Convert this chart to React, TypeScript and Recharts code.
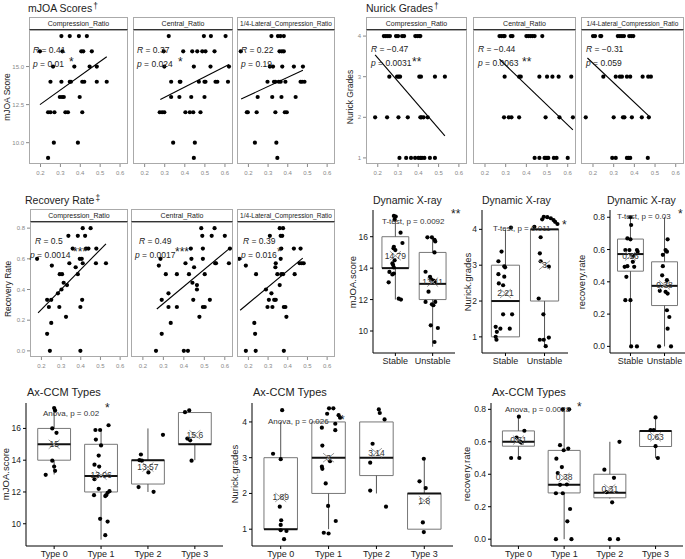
import React from "react";
import {
  ScatterChart,
  Scatter,
  XAxis,
  YAxis,
  ReferenceLine,
  ReferenceArea,
} from "recharts";

type Pt = [number, number];
// lo whisker, Q1, median, Q3, hi whisker
type Box = [number, number, number, number, number];

// ---------- faceted scatter panels ----------
const ratioTicks = [0.2, 0.3, 0.4, 0.5, 0.6];
const facetNames = ["Compression_Ratio", "Central_Ratio", "1/4-Lateral_Compression_Ratio"];

const mjoaTicks = [10, 12.5, 15];
const mjoaCompression: Pt[] = [
  [0.305, 17], [0.347, 17], [0.393, 17], [0.433, 17],
  [0.197, 16], [0.31, 16], [0.405, 16], [0.415, 16], [0.458, 16],
  [0.263, 15], [0.37, 15], [0.447, 15], [0.483, 15],
  [0.25, 14], [0.305, 14], [0.347, 14], [0.353, 14], [0.41, 14], [0.42, 14], [0.483, 14], [0.533, 14],
  [0.297, 13], [0.308, 13], [0.317, 13], [0.397, 13],
  [0.238, 12], [0.25, 12], [0.27, 12], [0.325, 12], [0.338, 12], [0.41, 12],
  [0.267, 10], [0.388, 10], [0.238, 9],
];
const mjoaCentral: Pt[] = [
  [0.32, 17], [0.495, 17], [0.53, 17], [0.603, 17],
  [0.295, 16], [0.392, 16], [0.437, 16], [0.462, 16], [0.487, 16], [0.503, 16], [0.548, 16],
  [0.298, 15], [0.445, 15], [0.528, 15], [0.62, 15],
  [0.332, 14], [0.375, 14], [0.378, 14], [0.47, 14], [0.498, 14], [0.503, 14], [0.553, 14], [0.562, 14], [0.615, 14],
  [0.332, 13], [0.373, 13], [0.432, 13], [0.498, 13],
  [0.275, 12], [0.287, 12], [0.298, 12], [0.403, 12], [0.425, 12], [0.442, 12], [0.478, 12],
  [0.342, 10], [0.45, 10], [0.445, 9],
];
const mjoaLateral: Pt[] = [
  [0.317, 17], [0.35, 17], [0.363, 17], [0.38, 17],
  [0.161, 16], [0.358, 16], [0.37, 16], [0.38, 16],
  [0.309, 15], [0.325, 15], [0.372, 15], [0.431, 15], [0.477, 15],
  [0.297, 14], [0.33, 14], [0.337, 14], [0.354, 14], [0.364, 14], [0.388, 14], [0.465, 14], [0.473, 14], [0.485, 14],
  [0.247, 13], [0.321, 13], [0.368, 13], [0.44, 13],
  [0.192, 12], [0.197, 12], [0.242, 12], [0.337, 12], [0.385, 12], [0.395, 12],
  [0.233, 10], [0.342, 10], [0.347, 9],
];
const mjoaFits: Pt[][] = [
  [[0.197, 12.5], [0.533, 15.64]],
  [[0.278, 12.83], [0.62, 15.13]],
  [[0.163, 12.87], [0.477, 14.76]],
];
const mjoaR = ["0.41", "0.37", "0.22"];
const mjoaP = ["0.01", "0.024", "0.19"];
const mjoaSig = ["*", "*", ""];

const nurickTicks = [1, 2, 3, 4];
const nurickCompression: Pt[] = [
  [0.23, 4], [0.24, 4], [0.25, 4], [0.26, 4], [0.29, 4], [0.3, 4], [0.32, 4], [0.33, 4], [0.385, 4], [0.395, 4], [0.405, 4], [0.41, 4],
  [0.257, 3], [0.295, 3], [0.303, 3], [0.31, 3], [0.405, 3], [0.413, 3], [0.482, 3], [0.531, 3],
  [0.187, 2], [0.246, 2], [0.302, 2], [0.348, 2], [0.41, 2], [0.416, 2], [0.426, 2], [0.446, 2],
  [0.307, 1], [0.34, 1], [0.364, 1], [0.384, 1], [0.4, 1], [0.41, 1], [0.418, 1], [0.43, 1], [0.457, 1], [0.482, 1],
];
const nurickCentral: Pt[] = [
  [0.27, 4], [0.28, 4], [0.29, 4], [0.295, 4], [0.325, 4], [0.333, 4], [0.4, 4], [0.41, 4], [0.42, 4], [0.43, 4], [0.44, 4], [0.477, 4],
  [0.295, 3], [0.365, 3], [0.373, 3], [0.463, 3], [0.5, 3], [0.526, 3], [0.556, 3], [0.617, 3],
  [0.292, 2], [0.315, 2], [0.328, 2], [0.365, 2], [0.493, 2], [0.56, 2], [0.625, 2],
  [0.44, 1], [0.463, 1], [0.488, 1], [0.494, 1], [0.5, 1], [0.506, 1], [0.533, 1], [0.546, 1], [0.6, 1],
];
const nurickLateral: Pt[] = [
  [0.2, 4], [0.21, 4], [0.235, 4], [0.24, 4], [0.32, 4], [0.33, 4], [0.34, 4], [0.35, 4], [0.375, 4], [0.385, 4], [0.395, 4],
  [0.25, 3], [0.31, 3], [0.33, 3], [0.34, 3], [0.364, 3], [0.38, 3], [0.44, 3], [0.467, 3], [0.48, 3],
  [0.165, 2], [0.3, 2], [0.345, 2], [0.352, 2], [0.388, 2], [0.436, 2], [0.47, 2],
  [0.293, 1], [0.31, 1], [0.364, 1], [0.372, 1], [0.38, 1], [0.465, 1],
];
const nurickFits: Pt[][] = [
  [[0.187, 3.54], [0.531, 1.54]],
  [[0.27, 3.43], [0.625, 1.69]],
  [[0.173, 3.46], [0.477, 2.0]],
];
const nurickR = ["\u22120.47", "\u22120.44", "\u22120.31"];
const nurickP = ["0.0031", "0.0063", "0.059"];
const nurickSig = ["**", "**", ""];

const recoveryTicks = [0, 0.2, 0.4, 0.6, 0.8];
const recoveryCompression: Pt[] = [
  [0.178, 0.6], [0.229, 0.333], [0.238, 0.286], [0.229, 0.111], [0.243, 0], [0.25, 0.182],
  [0.253, 0.556], [0.25, 0.333], [0.284, 0.375], [0.291, 0.286], [0.293, 0.5], [0.305, 0.5],
  [0.302, 0.4], [0.313, 0.444], [0.325, 0.222], [0.33, 0.429], [0.337, 0.75], [0.342, 0.571],
  [0.359, 0.667], [0.374, 0.545], [0.385, 0.75], [0.385, 0.5], [0.395, 0.6], [0.398, 0.286],
  [0.398, 0], [0.405, 0.6], [0.41, 0.8], [0.407, 0.333], [0.41, 0.571], [0.422, 0.75],
  [0.427, 0.667], [0.439, 0.667], [0.45, 0.8], [0.477, 0.571], [0.479, 0.667], [0.528, 0.571],
];
const recoveryCentral: Pt[] = [
  [0.264, 0], [0.278, 0.556], [0.286, 0.6], [0.292, 0.333], [0.292, 0.111], [0.312, 0.5],
  [0.325, 0.375], [0.325, 0.286], [0.336, 0.182], [0.366, 0.5], [0.366, 0.286], [0.4, 0],
  [0.42, 0], [0.408, 0.571], [0.425, 0.5], [0.434, 0.667], [0.437, 0.6], [0.442, 0.444],
  [0.446, 0.333], [0.45, 0.545], [0.464, 0.429], [0.464, 0.4], [0.476, 0.222], [0.485, 0.8],
  [0.49, 0.75], [0.493, 0.667], [0.493, 0.6], [0.493, 0.286], [0.502, 0.286], [0.502, 0.5],
  [0.527, 0.333], [0.536, 0.75], [0.55, 0.8], [0.553, 0.571], [0.557, 0.571], [0.6, 0.75],
  [0.62, 0.571], [0.625, 0.667],
];
const recoveryLateral: Pt[] = [
  [0.153, 0.6], [0.187, 0], [0.187, 0.556], [0.23, 0.182], [0.234, 0.111], [0.237, 0],
  [0.239, 0.5], [0.289, 0.4], [0.297, 0.286], [0.304, 0.333], [0.309, 0.75], [0.317, 0.375],
  [0.322, 0.286], [0.331, 0.333], [0.339, 0.333], [0.337, 0.545], [0.339, 0.571], [0.347, 0.5],
  [0.359, 0.8], [0.364, 0.75], [0.367, 0.667], [0.364, 0.6], [0.359, 0.429], [0.367, 0.5],
  [0.372, 0.75], [0.376, 0.8], [0.376, 0.5], [0.38, 0.286], [0.38, 0], [0.388, 0.286],
  [0.393, 0.222], [0.431, 0.667], [0.435, 0.5], [0.465, 0.667], [0.46, 0.571], [0.471, 0.571],
  [0.481, 0.571],
];
const recoveryFits: Pt[][] = [
  [[0.183, 0.247], [0.528, 0.698]],
  [[0.268, 0.273], [0.625, 0.67]],
  [[0.158, 0.265], [0.476, 0.605]],
];
const recoveryR = ["0.5", "0.49", "0.39"];
const recoveryP = ["0.0014", "0.0017", "0.016"];
const recoverySig = ["***", "***", "*"];

// ---------- box plots ----------
const xrayCats = ["Stable", "Unstable"];
const typeCats = ["Type 0", "Type 1", "Type 2", "Type 3"];

const xrayMjoaBoxes: Box[] = [[12, 14, 14, 16, 17.3], [9, 12, 13, 15, 16]];
const xrayMjoaMeans = [14.79, 13.11];
const xrayMjoaPts: Pt[][] = [
  [[-0.04, 17.32], [0.01, 17.28], [-0.02, 17.1], [0.14, 16.26], [0.19, 15.6], [-0.04, 15.36], [-0.05, 15.26],
   [0, 15.15], [-0.02, 14.5], [-0.08, 14.3], [-0.06, 14.2], [-0.04, 14.04], [-0.16, 13.76], [-0.04, 13.66],
   [-0.08, 13.6], [-0.18, 13.1], [0.09, 12.06], [0.15, 12.0]],
  [[-0.14, 15.96], [-0.02, 15.96], [0.05, 15.8], [0.07, 15.7], [0.05, 15.0], [-0.19, 13.77], [-0.07, 13.45],
   [-0.04, 13.28], [0.02, 13.2], [0.05, 13.13], [-0.11, 12.5], [-0.19, 11.85], [0.07, 11.85], [-0.02, 11.7],
   [0.02, 11.64], [-0.05, 10.36], [0.14, 10.19], [0.05, 9.3]],
];
const xrayNurickBoxes: Box[] = [[1, 1, 2, 3, 4], [0.75, 2, 4, 4, 4]];
const xrayNurickMeans = [2.21, 3];
const xrayNurickPts: Pt[][] = [
  [[0.14, 4.05], [-0.1, 3.38], [-0.18, 3.11], [-0.03, 2.97], [-0.01, 2.94], [-0.18, 2.75], [-0.03, 2.68],
   [-0.17, 2.49], [-0.06, 2.44], [-0.06, 1.63], [0.17, 1.63], [-0.25, 1.28], [-0.13, 1.23], [0.11, 1.23],
   [-0.22, 1.14], [-0.25, 1.0], [-0.23, 0.92]],
  [[-0.02, 4.35], [0.07, 4.34], [0.16, 4.31], [-0.06, 4.28], [0.23, 4.26], [0.27, 4.21], [0.33, 4.15],
   [-0.26, 4.07], [-0.1, 3.78], [-0.12, 3.33], [-0.1, 3.11], [0.11, 2.96], [-0.15, 2.07], [-0.03, 1.63],
   [-0.12, 0.92], [-0.02, 0.92], [0.11, 0.98], [0.03, 0.74]],
];
const xrayRecoveryBoxes: Box[] = [[0, 0.466, 0.572, 0.665, 0.8], [0, 0.253, 0.375, 0.524, 0.8]];
const xrayRecoveryMeans = [0.56, 0.38];
const xrayRecoveryPts: Pt[][] = [
  [[0, 0.8], [0.02, 0.752], [-0.09, 0.669], [0, 0.663], [-0.15, 0.597], [-0.03, 0.597], [0.19, 0.597],
   [0.21, 0.587], [0.07, 0.56], [0.07, 0.524], [-0.17, 0.493], [-0.09, 0.497], [0.11, 0.493],
   [-0.12, 0.431], [-0.15, 0.286], [0, 0.286], [0.02, 0], [0.19, 0]],
  [[0.09, 0.663], [0.03, 0.597], [0.07, 0.587], [-0.05, 0.567], [-0.05, 0.497], [-0.07, 0.44],
   [0.07, 0.41], [-0.14, 0.344], [0.03, 0.338], [0.09, 0.327], [0.07, 0.224], [0.14, 0.182],
   [0.09, 0.11], [-0.16, 0], [0.19, 0]],
];

const typeMjoaBoxes: Box[] = [
  [13.1, 14, 15, 16, 17.3], [9, 12, 13, 15, 15.9], [12, 12.5, 14, 14, 16], [14, 15, 15, 17, 17],
];
const typeMjoaMeans = [15, 13.06, 13.57, 15.6];
const typeMjoaPts: Pt[][] = [
  [[0, 17.28], [0.02, 17.13], [-0.04, 16.0], [0.05, 15.72], [-0.04, 13.97], [0, 13.6], [0.02, 13.33], [-0.18, 13.08]],
  [[-0.12, 15.9], [-0.02, 15.9], [0.16, 16.2], [-0.11, 15.3], [0, 14.93], [-0.05, 14.29], [-0.14, 13.72],
   [-0.04, 13.6], [-0.14, 12.8], [-0.05, 12.2], [0.18, 12.05], [0.14, 11.95], [0.11, 11.8], [-0.15, 11.8],
   [0.09, 11.74], [-0.02, 10.31], [0.14, 10.14], [0.09, 9.28]],
  [[-0.15, 14.36], [-0.18, 14.0], [-0.13, 13.97], [0.32, 15.6], [0.01, 13.23], [-0.2, 12.31], [0.12, 12.01]],
  [[-0.21, 17.02], [-0.12, 17.13], [-0.16, 15.36], [-0.1, 15.25], [-0.07, 13.97]],
];
const typeNurickBoxes: Box[] = [[1, 1, 1, 3, 4], [1, 2, 3, 4, 4], [2, 2.5, 3, 4, 4], [1, 1, 2, 2, 3]];
const typeNurickMeans = [1.89, 3, 3.14, 1.8];
const typeNurickPts: Pt[][] = [
  [[0.03, 4.33], [-0.16, 3.11], [0, 2.96], [-0.02, 1.63], [0.01, 1.25], [0, 1.12], [0, 0.97], [0.12, 0.95], [0.07, 0.72]],
  [[0.01, 4.38], [0.1, 4.38], [-0.03, 4.23], [0.21, 4.19], [0.24, 4.12], [0.14, 3.95], [-0.14, 3.84],
   [0.14, 3.77], [-0.13, 3.34], [0.03, 2.9], [-0.14, 2.75], [-0.13, 2.69], [-0.06, 2.28], [-0.01, 1.65],
   [0.15, 1.23], [-0.1, 0.9], [0, 0.88]],
  [[0.05, 4.35], [0.07, 4.25], [0.17, 4.07], [-0.08, 3.39], [-0.13, 2.86], [-0.13, 2.08], [0.2, 1.63]],
  [[-0.01, 2.97], [-0.1, 2.34], [0.03, 2.15], [-0.03, 1.19], [-0.01, 0.92]],
];
const typeRecoveryBoxes: Box[] = [
  [0.5, 0.573, 0.6, 0.667, 0.75], [0, 0.285, 0.335, 0.547, 0.8], [0.25, 0.255, 0.286, 0.4, 0.6], [0.5, 0.571, 0.667, 0.667, 0.75],
];
const typeRecoveryMeans = [0.61, 0.38, 0.31, 0.63];
const typeRecoveryPts: Pt[][] = [
  [[0.01, 0.755], [0.13, 0.668], [-0.04, 0.626], [0.04, 0.6], [0.07, 0.594], [-0.16, 0.5], [0.02, 0.5]],
  [[-0.03, 0.8], [0.11, 0.8], [-0.09, 0.579], [0.09, 0.558], [-0.01, 0.548], [-0.17, 0.496], [-0.05, 0.444],
   [-0.14, 0.407], [0.06, 0.337], [-0.09, 0.335], [-0.18, 0.283], [-0.03, 0.283], [0.13, 0.186],
   [0.07, 0.11], [-0.18, 0], [0.16, 0]],
  [[-0.12, 0.428], [0.09, 0.378], [0.21, 0.6], [-0.07, 0.29], [0.05, 0.227], [0, 0], [0.18, 0]],
  [[0, 0.75], [-0.11, 0.672], [-0.04, 0.672], [0, 0.573], [0.05, 0.5]],
];

// ---------- helpers ----------
const FONT = '"Liberation Sans", Arial, Helvetica, sans-serif';
const RATIO_DOMAIN: [number, number] = [0.142, 0.64];
const f1 = (v: number) => v.toFixed(1);
const f0 = (v: number) => String(v);

const Dot = (p: any) => <circle cx={p.cx} cy={p.cy} r={2.1} fill="#000" />;
const NoDot = () => <g />;
const MeanMark = (p: any) => (
  <g>
    <line x1={p.cx - 5.5} y1={p.cy - 4.5} x2={p.cx + 5.5} y2={p.cy + 4.5} stroke="#9a9a9a" />
    <line x1={p.cx - 5.5} y1={p.cy + 4.5} x2={p.cx + 5.5} y2={p.cy - 4.5} stroke="#9a9a9a" />
    <text x={p.cx} y={p.cy} dy="0.35em" textAnchor="middle" fontSize={8.5} fill="#333">
      {p.payload.label}
    </text>
  </g>
);

function Txt({ x, y, size, color = "#222", children }: any) {
  return (
    <div
      style={{
        position: "absolute",
        left: x,
        top: y - size / 2,
        fontSize: size,
        lineHeight: `${size}px`,
        color,
        whiteSpace: "nowrap",
      }}>
      {children}
    </div>
  );
}

function VTxt({ x, y, size, children }: any) {
  return (
    <div
      style={{
        position: "absolute",
        left: x,
        top: y,
        fontSize: size,
        lineHeight: `${size}px`,
        color: "#222",
        whiteSpace: "nowrap",
        transform: "translate(-50%, -50%) rotate(-90deg)",
      }}>
      {children}
    </div>
  );
}

function Title({ x, y, size, text, mark }: any) {
  return (
    <Txt x={x} y={y} size={size}>
      {text}
      {mark && <span style={{ position: "relative", top: -3, fontSize: size * 0.8, marginLeft: 1 }}>{mark}</span>}
    </Txt>
  );
}

interface FacetProps {
  left: number;
  top: number;
  w: number;
  h: number;
  pts: Pt[];
  fit: Pt[];
  yDomain: [number, number];
  yTicks: number[];
  yFmt: (v: number) => string;
  showY: boolean;
  name: string;
}

function Facet({ left, top, w, h, pts, fit, yDomain, yTicks, yFmt, showY, name }: FacetProps) {
  const yw = showY ? 24 : 0;
  const dots = pts.map(([x, y]) => ({ x, y }));
  const line = fit.map(([x, y]) => ({ x, y }));
  return (
    <>
      <div
        style={{
          position: "absolute",
          left,
          top: top - 13,
          width: w,
          height: 13,
          boxSizing: "border-box",
          border: "1px solid #aaa",
          borderBottom: "1px solid #333",
          fontSize: name.length > 20 ? 6.5 : 7,
          lineHeight: "11px",
          textAlign: "center",
          overflow: "hidden",
          whiteSpace: "nowrap",
          color: "#1a1a1a",
        }}>
        {name}
      </div>
      <div style={{ position: "absolute", left: left - yw, top }}>
        <ScatterChart width={w + yw} height={h + 16} margin={{ top: 0, right: 0, bottom: 0, left: 0 }}>
          <XAxis
            type="number"
            dataKey="x"
            domain={RATIO_DOMAIN}
            ticks={ratioTicks}
            interval={0}
            allowDataOverflow
            axisLine={false}
            tickLine={{ stroke: "#888" }}
            tickSize={3}
            tickMargin={4}
            height={16}
            tick={{ fontSize: 6, fill: "#888" }}
            tickFormatter={f1}
          />
          <YAxis
            type="number"
            dataKey="y"
            domain={yDomain}
            ticks={yTicks}
            interval={0}
            allowDataOverflow
            hide={!showY}
            width={yw}
            axisLine={false}
            tickLine={{ stroke: "#888" }}
            tickSize={3}
            tickMargin={2}
            tick={{ fontSize: 6, fill: "#888" }}
            tickFormatter={yFmt}
          />
          <Scatter data={dots} shape={Dot} isAnimationActive={false} />
          <Scatter data={line} shape={NoDot} line={{ stroke: "#000", strokeWidth: 1.1 }} isAnimationActive={false} />
        </ScatterChart>
      </div>
      <div
        style={{
          position: "absolute",
          left,
          top,
          width: w,
          height: h,
          boxSizing: "border-box",
          border: "1px solid #aaa",
          pointerEvents: "none",
        }}
      />
    </>
  );
}

function BoxPanel({ left, top, w, h, cats, boxes, means, pts, yDomain, yTicks, yFmt, bw }: any) {
  const yw = 26;
  const n = cats.length;
  const dots = (pts as Pt[][]).flatMap((g, i) => g.map(([j, v]) => ({ x: i + 1 + j, y: v })));
  const meanPts = (means as number[]).map((m, i) => ({ x: i + 1, y: m, label: String(m) }));
  return (
    <div style={{ position: "absolute", left: left - yw, top }}>
      <ScatterChart width={w + yw} height={h + 20} margin={{ top: 0, right: 0, bottom: 0, left: 0 }}>
        <XAxis
          type="number"
          dataKey="x"
          domain={[0.4, n + 0.6]}
          ticks={cats.map((_: string, i: number) => i + 1)}
          interval={0}
          allowDataOverflow
          tickFormatter={(v) => cats[v - 1]}
          axisLine={{ stroke: "#000" }}
          tickLine={{ stroke: "#000" }}
          tickSize={3}
          tickMargin={2}
          height={20}
          tick={{ fontSize: 9, fill: "#222" }}
        />
        <YAxis
          type="number"
          dataKey="y"
          domain={yDomain}
          ticks={yTicks}
          interval={0}
          allowDataOverflow
          tickFormatter={yFmt}
          width={yw}
          axisLine={{ stroke: "#000" }}
          tickLine={{ stroke: "#000" }}
          tickSize={3}
          tickMargin={2}
          tick={{ fontSize: 8.5, fill: "#222" }}
        />
        {(boxes as Box[]).flatMap(([lo, q1, med, q3, hi], i) => {
          const c = i + 1;
          return [
            <ReferenceLine key={`wl${i}`} segment={[{ x: c, y: lo }, { x: c, y: q1 }]} stroke="#555" />,
            <ReferenceLine key={`wh${i}`} segment={[{ x: c, y: q3 }, { x: c, y: hi }]} stroke="#555" />,
            <ReferenceArea
              key={`b${i}`}
              x1={c - bw / 2}
              x2={c + bw / 2}
              y1={q1}
              y2={q3}
              fill="none"
              stroke="#777"
              strokeWidth={1}
            />,
            <ReferenceLine
              key={`m${i}`}
              segment={[{ x: c - bw / 2, y: med }, { x: c + bw / 2, y: med }]}
              stroke="#111"
              strokeWidth={2}
            />,
          ];
        })}
        <Scatter data={dots} shape={Dot} isAnimationActive={false} />
        <Scatter data={meanPts} shape={MeanMark} isAnimationActive={false} />
      </ScatterChart>
    </div>
  );
}

function Stat({ x, y, r, p, px }: any) {
  return (
    <>
      <Txt x={x} y={y} size={8.5}>
        <i>R</i> = {r}
      </Txt>
      <Txt x={px} y={y + 14} size={8.5}>
        <i>p</i> = {p}
      </Txt>
    </>
  );
}

const Star = ({ x, y, s }: any) => (
  <Txt x={x} y={y + 3} size={12}>
    {s}
  </Txt>
);

export default function App() {
  const mjoaLefts = [29, 133, 237];
  const mjoaWidths = [99, 100, 98];
  const nurickLefts = [366, 473, 581];
  const nurickWidths = [101, 103, 103];
  const recLefts = [30, 131, 237];
  const recWidths = [98, 102, 98];
  const mjoaSets = [mjoaCompression, mjoaCentral, mjoaLateral];
  const nurickSets = [nurickCompression, nurickCentral, nurickLateral];
  const recSets = [recoveryCompression, recoveryCentral, recoveryLateral];
  const mjoaStarX = [69, 178, 0];
  const nurickStarX = [412, 522, 0];
  const recStarX = [73, 175, 277];
  const recRX = [35, 139, 243];
  const recPX = [30, 135, 241];

  return (
    <div
      style={{
        position: "absolute",
        left: 0,
        top: 0,
        width: 685,
        height: 559,
        background: "#fff",
        overflow: "hidden",
        fontFamily: FONT,
      }}>
      {/* mJOA facets */}
      <Title x={28} y={8} size={10.5} text="mJOA Scores" mark="†" />
      <VTxt x={7} y={97} size={8.5}>mJOA Score</VTxt>
      {mjoaSets.map((pts, i) => (
        <Facet
          key={`mj${i}`}
          left={mjoaLefts[i]}
          top={30}
          w={mjoaWidths[i]}
          h={134}
          pts={pts}
          fit={mjoaFits[i]}
          yDomain={[8.6, 17.4]}
          yTicks={mjoaTicks}
          yFmt={f1}
          showY={i === 0}
          name={facetNames[i]}
        />
      ))}
      {mjoaSets.map((_, i) => (
        <React.Fragment key={`mjs${i}`}>
          <Stat x={mjoaLefts[i] + 4} px={mjoaLefts[i] + 4} y={50} r={mjoaR[i]} p={mjoaP[i]} />
          {mjoaSig[i] && <Star x={mjoaStarX[i]} y={59} s={mjoaSig[i]} />}
        </React.Fragment>
      ))}

      {/* Nurick facets */}
      <Title x={366} y={8} size={10.5} text="Nurick Grades" mark="†" />
      <VTxt x={350} y={97} size={8.5}>Nurick Grades</VTxt>
      {nurickSets.map((pts, i) => (
        <Facet
          key={`nu${i}`}
          left={nurickLefts[i]}
          top={30}
          w={nurickWidths[i]}
          h={134}
          pts={pts}
          fit={nurickFits[i]}
          yDomain={[0.85, 4.15]}
          yTicks={nurickTicks}
          yFmt={f0}
          showY={i === 0}
          name={facetNames[i]}
        />
      ))}
      {nurickSets.map((_, i) => (
        <React.Fragment key={`nus${i}`}>
          <Stat x={nurickLefts[i] + 5} px={nurickLefts[i] + 5} y={49} r={nurickR[i]} p={nurickP[i]} />
          {nurickSig[i] && <Star x={nurickStarX[i]} y={59} s={nurickSig[i]} />}
        </React.Fragment>
      ))}

      {/* Recovery facets */}
      <Title x={25} y={200} size={10.5} text="Recovery Rate" mark="‡" />
      <VTxt x={8} y={289} size={8.5}>Recovery Rate</VTxt>
      {recSets.map((pts, i) => (
        <Facet
          key={`rc${i}`}
          left={recLefts[i]}
          top={222}
          w={recWidths[i]}
          h={135}
          pts={pts}
          fit={recoveryFits[i]}
          yDomain={[-0.04, 0.84]}
          yTicks={recoveryTicks}
          yFmt={f1}
          showY={i === 0}
          name={facetNames[i]}
        />
      ))}
      {recSets.map((_, i) => (
        <React.Fragment key={`rcs${i}`}>
          <Stat x={recRX[i]} px={recPX[i]} y={241} r={recoveryR[i]} p={recoveryP[i]} />
          <Star x={recStarX[i]} y={249} s={recoverySig[i]} />
        </React.Fragment>
      ))}

      {/* Dynamic X-ray box plots */}
      <BoxPanel left={373} top={210} w={82} h={143} cats={xrayCats} boxes={xrayMjoaBoxes} means={xrayMjoaMeans}
        pts={xrayMjoaPts} yDomain={[8.6, 17.7]} yTicks={[10, 12, 14, 16]} yFmt={f0} bw={0.72} />
      <BoxPanel left={482} top={210} w={86} h={143} cats={xrayCats} boxes={xrayNurickBoxes} means={xrayNurickMeans}
        pts={xrayNurickPts} yDomain={[0.55, 4.54]} yTicks={nurickTicks} yFmt={f0} bw={0.72} />
      <BoxPanel left={610} top={210} w={75} h={143} cats={xrayCats} boxes={xrayRecoveryBoxes} means={xrayRecoveryMeans}
        pts={xrayRecoveryPts} yDomain={[-0.041, 0.845]} yTicks={recoveryTicks} yFmt={f1} bw={0.76} />
      <Title x={373} y={200} size={10.5} text="Dynamic X-ray" />
      <Title x={482} y={200} size={10.5} text="Dynamic X-ray" />
      <Title x={607} y={200} size={10.5} text="Dynamic X-ray" />
      <VTxt x={353} y={282} size={9.5}>mJOA.score</VTxt>
      <VTxt x={468} y={282} size={9.5}>Nurick.grades</VTxt>
      <VTxt x={582} y={282} size={9.5}>recovery.rate</VTxt>
      <Txt x={382} y={222} size={8} color="#333">T-test, p = 0.0092</Txt>
      <Star x={451} y={211} s="**" />
      <Txt x={493} y={229} size={8} color="#333">T-test, p = 0.011</Txt>
      <Star x={562} y={222} s="*" />
      <Txt x={617} y={217} size={8} color="#333">T-test, p = 0.03</Txt>
      <Star x={678} y={211} s="*" />

      {/* Ax-CCM Types box plots */}
      <BoxPanel left={26} top={403} w={197} h={143} cats={typeCats} boxes={typeMjoaBoxes} means={typeMjoaMeans}
        pts={typeMjoaPts} yDomain={[8.6, 17.6]} yTicks={[10, 12, 14, 16]} yFmt={f0} bw={0.7} />
      <BoxPanel left={252} top={403} w={201} h={143} cats={typeCats} boxes={typeNurickBoxes} means={typeNurickMeans}
        pts={typeNurickPts} yDomain={[0.53, 4.53]} yTicks={nurickTicks} yFmt={f0} bw={0.7} />
      <BoxPanel left={491} top={403} w={192} h={143} cats={typeCats} boxes={typeRecoveryBoxes} means={typeRecoveryMeans}
        pts={typeRecoveryPts} yDomain={[-0.042, 0.839]} yTicks={recoveryTicks} yFmt={f1} bw={0.7} />
      <Title x={27} y={392} size={11} text="Ax-CCM Types" />
      <Title x={253} y={392} size={11} text="Ax-CCM Types" />
      <Title x={492} y={392} size={11} text="Ax-CCM Types" />
      <VTxt x={6} y={474} size={9.5}>mJOA.score</VTxt>
      <VTxt x={235} y={474} size={9.5}>Nurick.grades</VTxt>
      <VTxt x={467} y={474} size={9.5}>recovery.rate</VTxt>
      <Txt x={43} y={414} size={8} color="#333">Anova, p = 0.02</Txt>
      <Star x={105} y={405} s="*" />
      <Txt x={268} y={422} size={8} color="#333">Anova, p = 0.026</Txt>
      <Star x={340} y={417} s="*" />
      <Txt x={505} y={410} size={8} color="#333">Anova, p = 0.0028</Txt>
      <Star x={577} y={404} s="*" />
    </div>
  );
}
